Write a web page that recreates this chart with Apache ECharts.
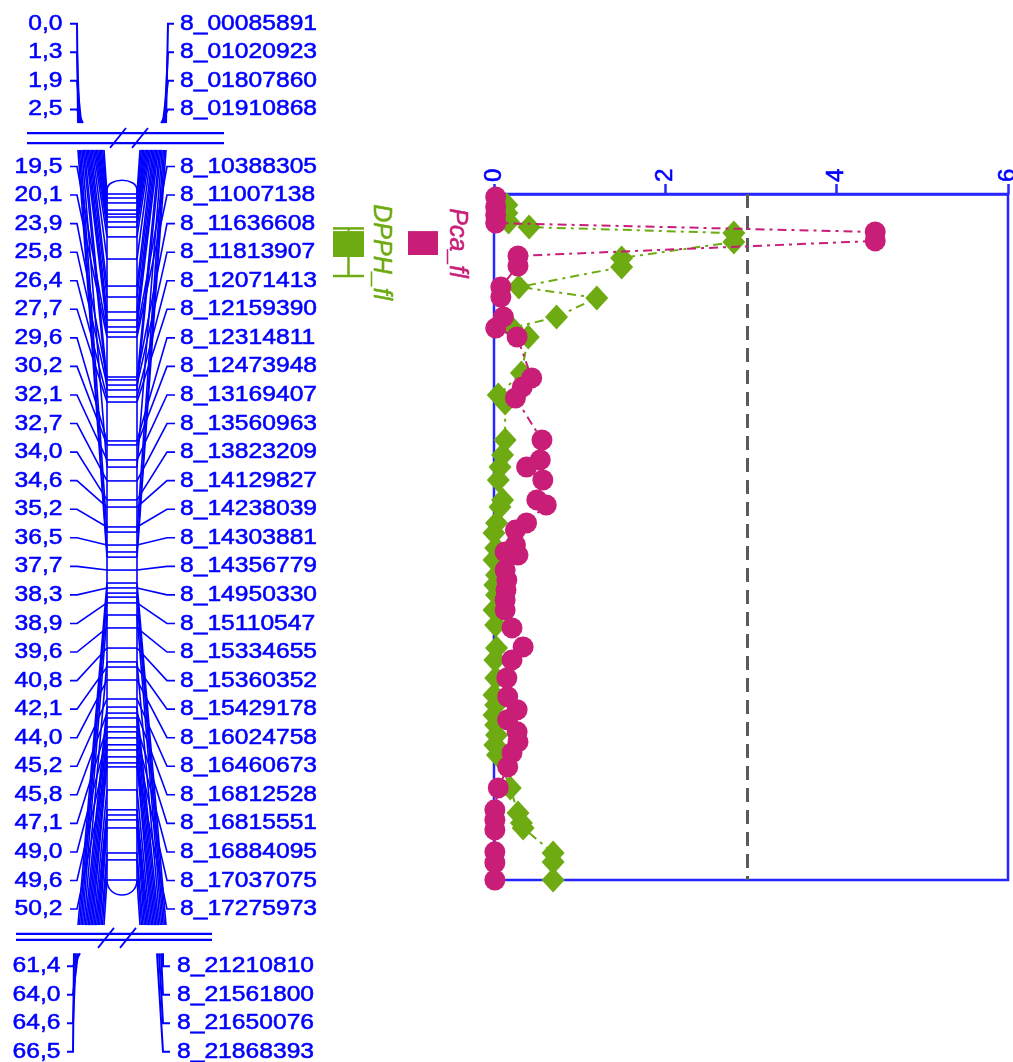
<!DOCTYPE html>
<html>
<head>
<meta charset="utf-8">
<title>LG8 – DPPH_fl / Pca_fl</title>
<style>
  html, body { margin: 0; padding: 0; background: #ffffff; }
  #chart { width: 1013px; height: 1062px; }
</style>
<script src="https://cdn.jsdelivr.net/npm/echarts@6/dist/echarts.min.js"></script>
</head>
<body>
<div id="chart"></div>
<script>
// ---------------- linkage group 8: labels ----------------
const topPositions = ['0,0', '1,3', '1,9', '2,5'];
const topMarkers = ['8_00085891', '8_01020923', '8_01807860', '8_01910868'];

const midPositions = ['19,5', '20,1', '23,9', '25,8', '26,4', '27,7', '29,6', '30,2', '32,1',
  '32,7', '34,0', '34,6', '35,2', '36,5', '37,7', '38,3', '38,9', '39,6', '40,8', '42,1',
  '44,0', '45,2', '45,8', '47,1', '49,0', '49,6', '50,2'];
const midMarkers = ['8_10388305', '8_11007138', '8_11636608', '8_11813907', '8_12071413',
  '8_12159390', '8_12314811', '8_12473948', '8_13169407', '8_13560963', '8_13823209',
  '8_14129827', '8_14238039', '8_14303881', '8_14356779', '8_14950330', '8_15110547',
  '8_15334655', '8_15360352', '8_15429178', '8_16024758', '8_16460673', '8_16812528',
  '8_16815551', '8_16884095', '8_17037075', '8_17275973'];

const bottomPositions = ['61,4', '64,0', '64,6', '66,5'];
const bottomMarkers = ['8_21210810', '8_21561800', '8_21650076', '8_21868393'];

// marker positions drawn on the chromosome body (cM)
const chromMarkersCM = [19.5, 19.68, 19.9, 20.22, 20.4, 20.53, 20.75, 20.98, 21.42, 22.41,
  23.62, 24.11, 24.78, 25.14, 25.45, 25.68, 25.9, 27.69, 27.82, 28.05, 28.27, 28.58, 28.81,
  30.55, 30.73, 31.4, 31.72, 32.34, 33.19, 33.51, 34.4, 34.63, 35.21, 35.52, 35.75, 36.33,
  36.91, 37.13, 37.36, 37.54, 37.8, 38.34, 38.92, 39.82, 40.44, 40.67, 41.25, 42.1, 42.46,
  42.73, 42.95, 43.35, 43.57, 43.84, 44.15, 44.38, 44.69, 44.96, 45.14, 46.17, 47.06, 47.29,
  47.51, 47.87, 48.99, 49.3, 50.2];

// chromosome position each middle label is linked to (cM)
const labelLinkCM = [25.68, 25.9, 27.69, 28.05, 28.58, 28.81, 30.55, 30.73, 31.4, 32.34,
  33.19, 33.51, 34.4, 35.21, 36.33, 37.13, 37.8, 38.92, 39.82, 40.67, 41.25, 42.1, 42.73,
  43.35, 43.84, 44.38, 45.14];

// ---------------- LOD profiles ----------------
const pcaPos = [19.63, 20.08, 20.44, 20.8, 21.2, 21.6, 22.27, 22.72, 23.66, 24.11, 25.0, 25.5,
  25.9, 27.73, 28.14, 28.63, 30.51, 31.4, 31.72, 32.3, 33.19, 33.42, 34.22, 34.54, 35.21,
  35.52, 35.66, 36.33, 36.77, 37.22, 37.67, 38.12, 38.92, 39.77, 40.35, 41.16, 42.0, 42.58,
  43.03, 43.57, 44.02, 44.51, 45.14, 46.08, 47.06, 47.51, 47.96, 48.94, 49.43, 50.2];
const pcaLod = [0.02, 0.02, 0.02, 0.02, 4.45, 4.45, 0.28, 0.28, 0.08, 0.08, 0.11, 0.02,
  0.27, 0.44, 0.33, 0.25, 0.56, 0.54, 0.38, 0.57, 0.5, 0.61, 0.38, 0.25, 0.25,
  0.13, 0.28, 0.13, 0.15, 0.14, 0.13, 0.13, 0.21, 0.34, 0.21, 0.15, 0.16, 0.27,
  0.16, 0.27, 0.28, 0.21, 0.16, 0.05, 0.01, 0.01, 0.01, 0.01, 0.01, 0.01];

const dpphPos = [19.99, 20.35, 20.75, 20.98, 21.25, 21.65, 22.36, 22.77, 23.66, 24.15, 25.0,
  25.5, 25.9, 27.51, 28.5, 28.85, 30.51, 31.18, 31.72, 32.3, 33.19, 33.51, 34.22, 34.67,
  35.34, 35.88, 36.55, 37.0, 37.45, 38.12, 38.79, 39.82, 40.35, 41.16, 41.92, 42.37, 42.82,
  43.26, 43.71, 44.16, 44.61, 46.08, 47.2, 47.65, 47.87, 48.99, 49.39, 50.2];
const dpphLod = [0.15, 0.15, 0.17, 0.41, 2.8, 2.8, 1.49, 1.49, 0.29, 1.2, 0.73,
  0.21, 0.4, 0.32, 0.05, 0.13, 0.13, 0.1, 0.07, 0.05, 0.1, 0.07, 0.03, 0.0,
  0.02, 0.0, 0.03, 0.01, 0.03, 0.0, 0.02, 0.03, 0.01, 0.02, 0.0, 0.02, 0.0,
  0.02, 0.03, 0.01, 0.04, 0.19, 0.28, 0.32, 0.34, 0.69, 0.69, 0.69];

const lodThreshold = 2.96;
const lodTicks = { min: 0, max: 6, step: 2 };

// QTL intervals: [2-LOD top, 1-LOD top, 1-LOD bottom, 2-LOD bottom] (cM)
const qtlNames = ['DPPH_fl', 'Pca_fl'];
const dpphInterval = [21.04, 21.16, 22.32, 23.17];
const pcaInterval = [21.16, 22.23];

// ---------------- styling ----------------
const BLUE = '#0000ff';
const AXIS_BLUE = '#2626ff';
const PINK = '#c81e78';
const GREEN = '#6eab12';
const GREY = '#5a5a5a';
const FONT = 'Liberation Sans';
const CHR_L = 107, CHR_R = 137;   // chromosome body edges (panel units = px)
const TEXT_STRETCH = 1.12;
const LW = 1.6;                   // connector line width

const chart = echarts.init(document.getElementById('chart'), null, { renderer: 'canvas' });

// label row -> pixel, via the hidden row axis of the chromosome panel
function rowPx(r) { return chart.convertToPixel({ yAxisIndex: 2 }, r); }

function poly(points, w, color) {
  return { type: 'polyline', shape: { points: points },
    style: { stroke: color || BLUE, lineWidth: w || LW, fill: 'none' } };
}
function txt(x, y, text, align, opt) {
  opt = opt || {};
  const c = opt.color || BLUE;
  return {
    type: 'text', x: x, y: y, rotation: opt.rotation || 0,
    scaleX: opt.scaleX == null ? TEXT_STRETCH : opt.scaleX,
    style: {
      text: text, fill: c, textFill: c, stroke: c, lineWidth: 0.55,
      textStroke: c, textStrokeWidth: 0.55,
      fontSize: opt.size || 22, fontFamily: FONT, fontStyle: opt.italic ? 'italic' : 'normal',
      align: align, textAlign: align, verticalAlign: 'middle', textVerticalAlign: 'middle'
    }
  };
}

// rows on the label axis
const topRows = topPositions.map((_, i) => i - 5);
const midRows = midPositions.map((_, i) => i);
const bottomRows = bottomPositions.map((_, i) => 28 + i);

const allRows = topRows.concat(midRows, bottomRows);
const allLeft = topPositions.concat(midPositions, bottomPositions);
const allRight = topMarkers.concat(midMarkers, bottomMarkers);

// unlabeled chromosome markers fan out towards the segment breaks
const linked = new Set(labelLinkCM);
const unlinked = chromMarkersCM.filter(c => !linked.has(c));
const upperFan = unlinked.filter(c => c < 36);
const lowerFan = unlinked.filter(c => c >= 36).reverse();
const fanData = upperFan.map((c, k) => [k, c, 0, upperFan.length])
  .concat(lowerFan.map((c, k) => [k, c, 1, lowerFan.length]));

const option = {
  backgroundColor: '#ffffff',
  animation: false,
  grid: [
    { left: 494, top: 194, width: 514, height: 686, show: true, borderColor: AXIS_BLUE,
      borderWidth: 2.5, backgroundColor: 'transparent', outerBoundsMode: 'none' },
    { left: 0, top: 194, width: 494, height: 686, outerBoundsMode: 'none' },
    { left: 0, top: 166.5 - 5 * 28.56, width: 494, height: 36 * 28.56, outerBoundsMode: 'none' }
  ],
  xAxis: [
    { gridIndex: 0, type: 'value', position: 'top', min: lodTicks.min, max: lodTicks.max,
      interval: lodTicks.step,
      axisLine: { show: true, onZero: false, lineStyle: { color: AXIS_BLUE, width: 2.5 } },
      axisTick: { show: true, inside: false, length: 10, lineStyle: { color: AXIS_BLUE, width: 2.5 } },
      axisLabel: { rotate: -90, color: BLUE, fontSize: 24, fontFamily: FONT, margin: 12,
        textBorderColor: BLUE, textBorderWidth: 0.6 },
      splitLine: { show: false } },
    { gridIndex: 1, type: 'value', min: 0, max: 494, show: false },
    { gridIndex: 2, type: 'value', min: 0, max: 494, show: false }
  ],
  yAxis: [
    { gridIndex: 0, type: 'value', inverse: true, min: 19.5, max: 50.2, show: false },
    { gridIndex: 1, type: 'value', inverse: true, min: 19.5, max: 50.2, show: false },
    { gridIndex: 2, type: 'value', inverse: true, min: -5, max: 31, show: false }
  ],
  series: [
    // chromosome body outline with rounded ends
    { type: 'custom', xAxisIndex: 1, yAxisIndex: 1, silent: true, z: 2,
      data: [[chromMarkersCM[0], chromMarkersCM[chromMarkersCM.length - 1]]],
      renderItem: function (params, api) {
        const y0 = api.coord([0, api.value(0)])[1] - 4;
        const y1 = api.coord([0, api.value(1)])[1];
        const st = { stroke: BLUE, lineWidth: 1.6, fill: 'none' };
        return { type: 'group', children: [
          { type: 'line', shape: { x1: CHR_L, y1: y0, x2: CHR_L, y2: y1 }, style: st },
          { type: 'line', shape: { x1: CHR_R, y1: y0, x2: CHR_R, y2: y1 }, style: st },
          { type: 'bezierCurve', shape: { x1: CHR_L, y1: y0, cpx1: CHR_L, cpy1: y0 - 13,
            cpx2: CHR_R, cpy2: y0 - 13, x2: CHR_R, y2: y0 }, style: st },
          { type: 'bezierCurve', shape: { x1: CHR_L, y1: y1, cpx1: CHR_L, cpy1: y1 + 20,
            cpx2: CHR_R, cpy2: y1 + 20, x2: CHR_R, y2: y1 }, style: st }
        ] };
      } },
    // marker lines across the body
    { type: 'custom', xAxisIndex: 1, yAxisIndex: 1, silent: true, z: 2,
      data: chromMarkersCM.map(c => [CHR_L, c]),
      renderItem: function (params, api) {
        const p = api.coord([CHR_L, api.value(1)]);
        return { type: 'line', shape: { x1: CHR_L, y1: p[1], x2: CHR_R, y2: p[1] },
          style: { stroke: BLUE, lineWidth: 1.6 } };
      } },
    // fan lines of the unlabeled markers
    { type: 'custom', xAxisIndex: 1, yAxisIndex: 1, silent: true, z: 2,
      data: fanData,
      renderItem: function (params, api) {
        const k = api.value(0), n = api.value(3), grp = api.value(2);
        const yM = api.coord([0, api.value(1)])[1];
        const t = n > 1 ? k / (n - 1) : 0;
        const yT = rowPx(grp ? 26.56 : -0.58);
        if (yT == null || isNaN(yT)) return null;
        return { type: 'group', children: [
          poly([[CHR_L, yM], [104 - t * 26, yT]]),
          poly([[CHR_R, yM], [140 + t * 26, yT]])
        ] };
      } },
    // connectors from the middle labels to the chromosome
    { type: 'custom', xAxisIndex: 1, yAxisIndex: 1, silent: true, z: 2,
      data: labelLinkCM.map((c, i) => [i, c]),
      renderItem: function (params, api) {
        const yM = api.coord([0, api.value(1)])[1];
        const yL = rowPx(midRows[api.value(0)]);
        if (yL == null || isNaN(yL)) return null;
        return { type: 'group', children: [
          poly([[70, yL], [77, yL], [CHR_L, yM]]),
          poly([[CHR_R, yM], [167, yL], [175, yL]])
        ] };
      } },
    // upper segment (0,0 – 2,5) running into the break
    { type: 'custom', xAxisIndex: 2, yAxisIndex: 2, silent: true, z: 2,
      data: topRows.map((r, i) => [i, r]),
      renderItem: function (params, api) {
        const i = api.value(0);
        const yL = api.coord([0, api.value(1)])[1];
        const yB = api.coord([0, -1.52])[1];
        return { type: 'group', children: [
          poly([[70, yL], [77, yL], [78 + i * 1.6, yB]], 2),
          poly([[174, yL], [168, yL], [166 - i * 1.6, yB]], 2)
        ] };
      } },
    // lower segment (61,4 – 66,5) coming out of the break
    { type: 'custom', xAxisIndex: 2, yAxisIndex: 2, silent: true, z: 2,
      data: bottomRows.map((r, i) => [i, r]),
      renderItem: function (params, api) {
        const i = api.value(0);
        const yL = api.coord([0, api.value(1)])[1];
        const yB = api.coord([0, 27.55])[1];
        return { type: 'group', children: [
          poly([[67, yL], [73, yL], [80 - i * 2, yB]], 2),
          poly([[170, yL], [163, yL], [163 - i * 2, yB]], 2)
        ] };
      } },
    // segment breaks: double line with "//"
    { type: 'custom', xAxisIndex: 2, yAxisIndex: 2, silent: true, z: 2,
      data: [[0, -1], [1, 27]],
      renderItem: function (params, api) {
        const bottom = api.value(0) === 1;
        const rA = bottom ? 26.87 : -1.17, rB = bottom ? 27.08 : -0.82;
        const rHi = bottom ? 27.36 : -0.65, rLo = bottom ? 26.66 : -1.35;
        const x0 = bottom ? 16 : 27, x1 = bottom ? 212 : 224;
        const s1 = bottom ? 98 : 110, s2 = bottom ? 120 : 132;
        const y = r => api.coord([0, r])[1];
        return { type: 'group', children: [
          poly([[x0, y(rA)], [x1, y(rA)]], 2.2),
          poly([[x0, y(rB)], [x1, y(rB)]], 2.2),
          poly([[s1, y(rHi)], [s1 + 16, y(rLo)]], 1.8),
          poly([[s2, y(rHi)], [s2 + 16, y(rLo)]], 1.8)
        ] };
      } },
    // position and marker names
    { type: 'custom', xAxisIndex: 2, yAxisIndex: 2, silent: true, z: 3,
      data: allRows.map((r, i) => [i, r]),
      renderItem: function (params, api) {
        const i = api.value(0), r = api.value(1);
        const y = api.coord([0, r])[1];
        const low = r > 27;
        return { type: 'group', children: [
          txt(low ? 60.5 : 62.5, y, allLeft[i], 'right'),
          txt(low ? 177 : 180, y, allRight[i], 'left')
        ] };
      } },
    // QTL intervals with their trait names
    { type: 'custom', xAxisIndex: 1, yAxisIndex: 1, silent: true, z: 3,
      data: [
        [0, dpphInterval[0], dpphInterval[1], dpphInterval[2], dpphInterval[3]],
        [1, pcaInterval[0], pcaInterval[0], pcaInterval[1], pcaInterval[1]]
      ],
      renderItem: function (params, api) {
        const idx = api.value(0);
        const ys = [1, 2, 3, 4].map(d => api.coord([0, api.value(d)])[1]);
        const color = idx === 0 ? GREEN : PINK;
        const xl = idx === 0 ? 333 : 408, xr = idx === 0 ? 364 : 438;
        const xm = (xl + xr) / 2;
        const kids = [
          { type: 'rect', shape: { x: xl, y: ys[1], width: xr - xl, height: ys[2] - ys[1] },
            style: { fill: color } }
        ];
        if (ys[0] < ys[1] - 0.5) {
          kids.push(poly([[xl, ys[0]], [xr, ys[0]]], 2.5, color));
          kids.push(poly([[xm, ys[0]], [xm, ys[1]]], 2, color));
        }
        if (ys[3] > ys[2] + 0.5) {
          kids.push(poly([[xm, ys[2]], [xm, ys[3]]], 2.5, color));
          kids.push(poly([[xl, ys[3]], [xr, ys[3]]], 2.5, color));
        }
        const tx = idx === 0 ? 381 : 457;
        kids.push(txt(tx, (ys[0] + ys[3]) / 2, qtlNames[idx], 'center',
          { rotation: -Math.PI / 2, color: color, size: 25, italic: true, scaleX: 1 }));
        return { type: 'group', children: kids };
      } },
    // LOD profile: DPPH_fl
    { name: 'DPPH_fl', type: 'line', xAxisIndex: 0, yAxisIndex: 0, z: 4, clip: false,
      data: dpphPos.map((p, i) => [dpphLod[i], p]),
      symbol: 'diamond', symbolSize: [23, 25], showSymbol: true,
      itemStyle: { color: GREEN, opacity: 1 },
      lineStyle: { color: GREEN, width: 2, type: [9, 5, 3, 5] } },
    // LOD profile: Pca_fl, with the significance threshold
    { name: 'Pca_fl', type: 'line', xAxisIndex: 0, yAxisIndex: 0, z: 5, clip: false,
      data: pcaPos.map((p, i) => [pcaLod[i], p]),
      symbol: 'circle', symbolSize: 21, showSymbol: true,
      itemStyle: { color: PINK, opacity: 1 },
      lineStyle: { color: PINK, width: 2, type: [9, 5, 3, 5] },
      markLine: { silent: true, symbol: 'none', label: { show: false },
        lineStyle: { color: GREY, width: 3, type: [14, 8] },
        data: [{ xAxis: lodThreshold }] } }
  ]
};

chart.setOption(option);
</script>
</body>
</html>
